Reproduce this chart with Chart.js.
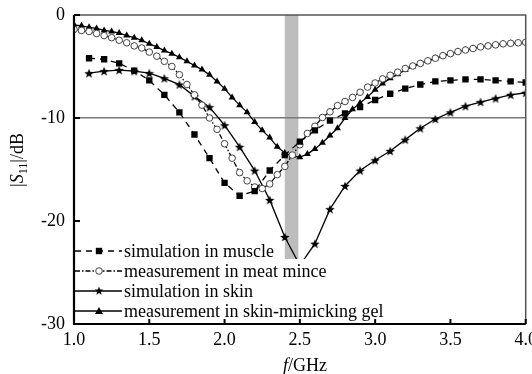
<!DOCTYPE html>
<html>
<head>
<meta charset="utf-8">
<script src="https://cdn.jsdelivr.net/npm/chart.js@4.4.1/dist/chart.umd.min.js"></script>
<style>
  html, body { margin: 0; background: #fff; }
  canvas { display: block; }
</style>
</head>
<body>
<canvas id="c" width="532" height="374"></canvas>
<script>
// |S11| vs frequency — simulated (0.1 GHz) and measured (0.05 GHz) sweeps.
const FREQ_SIM = [1.1, 1.2, 1.3, 1.4, 1.5, 1.6, 1.7, 1.8, 1.9, 2.0,
  2.1, 2.2, 2.3, 2.4, 2.5, 2.6, 2.7, 2.8, 2.9, 3.0,
  3.1, 3.2, 3.3, 3.4, 3.5, 3.6, 3.7, 3.8, 3.9, 4.0];
const FREQ_MEAS = [1.00, 1.05, 1.10, 1.15, 1.20, 1.25, 1.30, 1.35, 1.40, 1.45,
  1.50, 1.55, 1.60, 1.65, 1.70, 1.75, 1.80, 1.85, 1.90, 1.95,
  2.00, 2.05, 2.10, 2.15, 2.20, 2.25, 2.30, 2.35, 2.40, 2.45,
  2.50, 2.55, 2.60, 2.65, 2.70, 2.75, 2.80, 2.85, 2.90, 2.95,
  3.00, 3.05, 3.10, 3.15, 3.20, 3.25, 3.30, 3.35, 3.40, 3.45,
  3.50, 3.55, 3.60, 3.65, 3.70, 3.75, 3.80, 3.85, 3.90, 3.95,
  4.00];

const MUSCLE_SIM = [-4.2, -4.3, -4.7, -5.4, -6.35, -7.75, -9.45, -11.6, -13.9, -16.3,
  -17.55, -17.1, -15.1, -13.6, -12.3, -11.2, -10.25, -9.55, -8.95, -8.25,
  -7.65, -7.15, -6.75, -6.45, -6.35, -6.25, -6.25, -6.35, -6.45, -6.55];
const SKIN_SIM = [-5.65, -5.45, -5.35, -5.45, -5.65, -6.15, -6.75, -7.9, -8.95, -10.7,
  -12.8, -15.1, -17.95, -21.55, -24.3, -22.2, -18.85, -16.6, -15.1, -14.1,
  -13.2, -12.1, -11.0, -10.1, -9.45, -8.85, -8.45, -8.1, -7.75, -7.55];
const MINCE_MEAS = [-1.4, -1.5, -1.6, -1.8, -2.0, -2.2, -2.45, -2.7, -3.0, -3.2,
  -3.6, -4.0, -4.5, -5.0, -5.8, -6.75, -7.75, -8.75, -10.0, -11.1,
  -12.5, -13.9, -15.3, -16.1, -16.7, -16.85, -16.4, -15.5, -14.7, -13.6,
  -12.6, -11.5, -10.8, -9.95, -9.4, -8.8, -8.4, -8.0, -7.5, -7.0,
  -6.6, -6.2, -5.85, -5.55, -5.2, -4.95, -4.7, -4.45, -4.2, -3.95,
  -3.75, -3.55, -3.4, -3.25, -3.1, -3.0, -2.9, -2.8, -2.75, -2.7,
  -2.65];
const GEL_MEAS = [-0.95, -1.05, -1.2, -1.3, -1.5, -1.6, -1.75, -2.0, -2.2, -2.45,
  -2.8, -3.1, -3.45, -3.75, -4.1, -4.5, -4.9, -5.3, -5.8, -6.45,
  -7.15, -8.0, -8.75, -9.45, -10.4, -11.2, -11.9, -12.8, -13.4, -13.7,
  -13.8, -13.5, -13.0, -12.4, -11.7, -11.0, -10.0, -9.15, -8.55, -7.95,
  -7.25, -6.65, -6.15, -5.75, -5.35, -5.0, -4.7, -4.45, -4.2, -3.95,
  -3.75, -3.55, -3.4, -3.25, -3.1, -3.0, -2.9, -2.8, -2.75, -2.7,
  -2.65];

const SERIES_LABELS = [
  "simulation in muscle",
  "measurement in meat mince",
  "simulation in skin",
  "measurement in skin-mimicking gel",
];
const X_TICKS = [1.0, 1.5, 2.0, 2.5, 3.0, 3.5, 4.0];
const Y_TICKS = [-30, -20, -10, 0];
const ISM_BAND = [2.40, 2.49];   // shaded band, GHz
const REF_LEVEL = -10;           // -10 dB guide line

const SERIF = "'Liberation Serif', 'Times New Roman', serif";
const pts = (xs, ys) => xs.map((x, i) => ({ x, y: ys[i] }));

// Chart.js "star" is an asterisk; the figure uses a filled 5-point star.
function starPath(ctx, cx, cy, r) {
  ctx.beginPath();
  for (let i = 0; i < 10; i++) {
    const a = -Math.PI / 2 + i * Math.PI / 5;
    const rr = i % 2 ? r * 0.42 : r;
    ctx[i ? "lineTo" : "moveTo"](cx + rr * Math.cos(a), cy + rr * Math.sin(a));
  }
  ctx.closePath();
}
function makeStar(r) {
  const c = document.createElement("canvas");
  c.width = c.height = Math.ceil(r * 2 + 2);
  const g = c.getContext("2d");
  starPath(g, c.width / 2, c.height / 2 + 0.5, r);
  g.fillStyle = "#000";
  g.fill();
  return c;
}
const STAR = makeStar(5);

const STYLE = [
  { dash: [6, 5], marker: "rect" },
  { dash: [5, 2, 1.5, 2], marker: "circle" },
  { dash: [], marker: "star" },
  { dash: [], marker: "triangle" },
];

function drawMarker(ctx, kind, x, y) {
  ctx.save();
  ctx.setLineDash([]);
  if (kind === "rect") {
    ctx.fillStyle = "#000";
    ctx.fillRect(x - 3.2, y - 3.2, 6.4, 6.4);
  } else if (kind === "circle") {
    ctx.beginPath();
    ctx.arc(x, y, 3.3, 0, Math.PI * 2);
    ctx.fillStyle = "#fff";
    ctx.fill();
    ctx.strokeStyle = "#444";
    ctx.lineWidth = 1;
    ctx.stroke();
  } else if (kind === "star") {
    starPath(ctx, x, y, 4.5);
    ctx.fillStyle = "#000";
    ctx.fill();
  } else {
    ctx.beginPath();
    ctx.moveTo(x, y - 4);
    ctx.lineTo(x + 4, y + 3);
    ctx.lineTo(x - 4, y + 3);
    ctx.closePath();
    ctx.fillStyle = "#000";
    ctx.fill();
  }
  ctx.restore();
}

const decor = {
  id: "decor",
  beforeDraw(chart) {
    const { ctx, chartArea: a, scales: { x } } = chart;
    ctx.save();
    ctx.fillStyle = "#bdbdbd";
    const x0 = x.getPixelForValue(ISM_BAND[0]);
    const x1 = x.getPixelForValue(ISM_BAND[1]);
    ctx.fillRect(x0, a.top, x1 - x0, a.bottom - a.top);
    ctx.restore();
  },
  afterDatasetsDraw(chart) {
    const { ctx, chartArea: a } = chart;
    ctx.save();
    // legend sits on a white box that hides the band and the skin dip
    ctx.fillStyle = "#fff";
    ctx.fillRect(a.left + 1, 259, 336 - a.left, a.bottom - 260);
    const rows = [251, 271, 291, 311];
    ctx.font = `18px ${SERIF}`;
    ctx.textBaseline = "middle";
    SERIES_LABELS.forEach((label, i) => {
      const y = rows[i];
      ctx.beginPath();
      ctx.setLineDash(STYLE[i].dash);
      ctx.strokeStyle = "#000";
      ctx.lineWidth = 1.4;
      ctx.moveTo(75, y);
      ctx.lineTo(122, y);
      ctx.stroke();
      drawMarker(ctx, STYLE[i].marker, 99, y);
      ctx.fillStyle = "#000";
      ctx.fillText(label, 124, y + 1);
    });
    ctx.restore();
  },
  afterDraw(chart) {
    const { ctx, chartArea: a, scales: { x, y } } = chart;
    ctx.save();
    // thin top/right frame
    ctx.strokeStyle = "#555";
    ctx.lineWidth = 1.5;
    ctx.beginPath();
    ctx.moveTo(a.left, a.top);
    ctx.lineTo(a.right, a.top);
    ctx.lineTo(a.right, a.bottom);
    ctx.stroke();
    // heavy left/bottom axes
    ctx.strokeStyle = "#000";
    ctx.lineWidth = 2.2;
    ctx.beginPath();
    ctx.moveTo(a.left, a.top);
    ctx.lineTo(a.left, a.bottom);
    ctx.lineTo(a.right, a.bottom);
    ctx.stroke();
    // inward tick marks
    ctx.lineWidth = 2;
    ctx.beginPath();
    Y_TICKS.forEach((v) => {
      const py = y.getPixelForValue(v);
      ctx.moveTo(a.left, py);
      ctx.lineTo(a.left + 6, py);
    });
    X_TICKS.forEach((v) => {
      const px = x.getPixelForValue(v);
      ctx.moveTo(px, a.bottom);
      ctx.lineTo(px, a.bottom - 5);
    });
    ctx.stroke();

    // axis titles with italic symbols
    ctx.fillStyle = "#000";
    ctx.textBaseline = "alphabetic";
    const norm = `18px ${SERIF}`, ital = `italic 18px ${SERIF}`, sub = `12px ${SERIF}`;
    drawParts(ctx, [["f", ital, 0], ["/GHz", norm, 0]], 305, 371);

    ctx.translate(23, 160);
    ctx.rotate(-Math.PI / 2);
    drawParts(ctx, [["|", norm, 0], ["S", ital, 0], ["11", sub, 4], ["|/dB", norm, 0]], 0, 0);
    ctx.restore();
  },
};

function drawParts(ctx, parts, cx, baseY) {
  let w = 0;
  parts.forEach(([t, f]) => { ctx.font = f; w += ctx.measureText(t).width; });
  let px = cx - w / 2;
  parts.forEach(([t, f, dy]) => {
    ctx.font = f;
    ctx.fillText(t, px, baseY + dy);
    px += ctx.measureText(t).width;
  });
}

const datasets = [
  { data: pts(FREQ_SIM, MUSCLE_SIM), borderDash: STYLE[0].dash, pointStyle: "rect",
    pointRadius: 4.5, pointBackgroundColor: "#000", pointBorderColor: "#000", pointBorderWidth: 0 },
  { data: pts(FREQ_MEAS, MINCE_MEAS), borderDash: STYLE[1].dash, pointStyle: "circle",
    pointRadius: 3.3, pointBackgroundColor: "#fff", pointBorderColor: "#444", pointBorderWidth: 1 },
  { data: pts(FREQ_SIM, SKIN_SIM), pointStyle: STAR, pointRadius: 5 },
  { data: pts(FREQ_MEAS, GEL_MEAS), pointStyle: "triangle",
    pointRadius: 4, pointBackgroundColor: "#000", pointBorderColor: "#000", pointBorderWidth: 0 },
].map((d, i) => ({
  label: SERIES_LABELS[i],
  borderColor: "#000",
  borderWidth: 1.3,
  tension: 0,
  fill: false,
  ...d,
}));

// Keep the plot box fixed: 74..528 x 15..324, ignoring label overhang.
const noOverhang = (s) => {
  s.paddingLeft = 0; s.paddingRight = 0; s.paddingTop = 0; s.paddingBottom = 0;
};

new Chart(document.getElementById("c"), {
  type: "line",
  data: { datasets },
  plugins: [decor],
  options: {
    responsive: false,
    animation: false,
    layout: { padding: { top: 15, right: 4, left: 0, bottom: 0 } },
    plugins: { legend: { display: false }, tooltip: { enabled: false } },
    scales: {
      x: {
        type: "linear",
        min: 1.0,
        max: 4.0,
        afterFit: (s) => { s.height = 50; noOverhang(s); },
        afterBuildTicks: (s) => { s.ticks = X_TICKS.map((value) => ({ value })); },
        ticks: {
          color: "#000",
          padding: 5,
          font: { family: SERIF, size: 18 },
          callback: (v) => Number(v).toFixed(1),
        },
        grid: { display: false, drawTicks: false },
        border: { display: false },
      },
      y: {
        min: -30,
        max: 0,
        afterFit: (s) => { s.width = 74; noOverhang(s); },
        afterBuildTicks: (s) => { s.ticks = Y_TICKS.map((value) => ({ value })); },
        ticks: {
          color: "#000",
          padding: 9,
          font: { family: SERIF, size: 18 },
        },
        grid: {
          drawTicks: false,
          lineWidth: 1.5,
          color: (c) => (c.tick && c.tick.value === REF_LEVEL ? "#7a7a7a" : "rgba(0,0,0,0)"),
        },
        border: { display: false },
      },
    },
  },
});
</script>
</body>
</html>
